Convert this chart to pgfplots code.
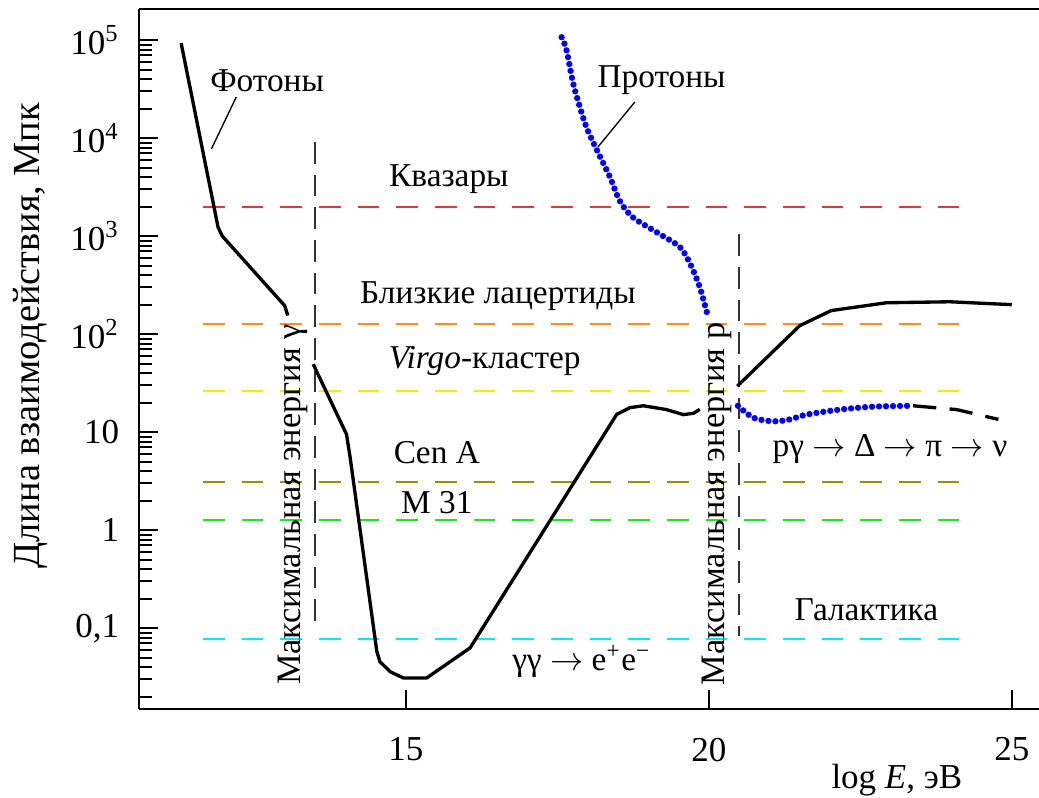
\documentclass[border=0pt]{standalone}
\usepackage{fontspec}
\setmainfont{Liberation Serif}
\usepackage{pgfplots}
\pgfplotsset{compat=1.18}
\definecolor{cRed}{RGB}{225,55,55}
\definecolor{cOrange}{RGB}{255,140,30}
\definecolor{cYellow}{RGB}{245,235,0}
\definecolor{cOlive}{RGB}{155,145,0}
\definecolor{cGreen}{RGB}{30,235,30}
\definecolor{cCyan}{RGB}{0,235,245}
\definecolor{cGray}{RGB}{50,50,50}
\definecolor{cBlue}{RGB}{0,0,245}
\begin{document}
\begin{tikzpicture}
\begin{axis}[
 scale only axis, width=269.9pt, height=210pt,
 ymode=log, xmin=10.6, xmax=25.45, ymin=0.01486, ymax=206000,
 axis x line*=bottom, axis y line*=left,
 axis line style={line width=0.6pt},
 tick align=inside,
 xtick={15,20,25}, xticklabels={15,20,25}, minor xtick={},
 ytick={0.1,1,10,100,1000,10000,100000},
 yticklabels={{0,1},1,10,10\textsuperscript{2},10\textsuperscript{3},10\textsuperscript{4},10\textsuperscript{5}},
 minor ytick={0.02,0.03,0.04,0.05,0.06,0.07,0.08,0.09,0.2,0.3,0.4,0.5,0.6,0.7,0.8,0.9,2,3,4,5,6,7,8,9,20,30,40,50,60,70,80,90,200,300,400,500,600,700,800,900,2000,3000,4000,5000,6000,7000,8000,9000,20000,30000,40000,50000,60000,70000,80000,90000},
 major tick length=5.7pt, minor tick length=3.7pt,
 every tick/.style={black, line width=0.6pt},
 /pgf/number format/assume math mode=true,
 tick label style={font=\fontsize{10.5}{12}\selectfont},
 xticklabel style={yshift=-5pt},
 yticklabel style={xshift=-2.5pt},
 clip=false,
 font=\fontsize{10}{12}\selectfont,
]
% horizontal reference levels
\addplot[cRed, line width=0.55pt, dash pattern=on 6.5pt off 5.1pt] coordinates {(11.65,1980) (24.27,1980)};
\addplot[cOrange, line width=0.55pt, dash pattern=on 6.5pt off 5.1pt] coordinates {(11.65,127) (24.27,127)};
\addplot[cYellow, line width=0.55pt, dash pattern=on 6.5pt off 5.1pt] coordinates {(11.65,26.4) (24.27,26.4)};
\addplot[cOlive, line width=0.55pt, dash pattern=on 6.5pt off 5.1pt] coordinates {(11.65,3.1) (24.27,3.1)};
\addplot[cGreen, line width=0.55pt, dash pattern=on 6.5pt off 5.1pt] coordinates {(11.65,1.26) (24.27,1.26)};
\addplot[cCyan, line width=0.55pt, dash pattern=on 6.5pt off 5.1pt] coordinates {(11.65,0.078) (24.27,0.078)};
% vertical max-energy lines
\addplot[cGray, line width=0.45pt, dash pattern=on 6.5pt off 3.3pt] coordinates {(13.5,9120) (13.5,0.1)};
\addplot[cGray, line width=0.45pt, dash pattern=on 6.5pt off 3.3pt] coordinates {(20.5,1047) (20.5,0.083)};
% photons
\addplot[black, line width=1pt] coordinates {(11.29,93300) (11.90,1230) (11.97,1000) (13.00,195) (13.05,155)};
\addplot[black, line width=1pt] coordinates {(13.47,49.4) (14.02,9.5) (14.08,5.5) (14.52,0.058) (14.57,0.0457) (14.74,0.036) (14.96,0.031) (15.34,0.031) (16.06,0.063) (18.48,15.2) (18.70,17.8) (18.92,18.6) (19.30,17.0) (19.58,15.1) (19.75,15.6) (19.85,17.1)};
\addplot[black, line width=1pt] coordinates {(20.47,29.5) (21.50,122) (22.02,174) (22.93,209) (23.98,214) (25.0,200)};
\addplot[black, line width=1pt, dash pattern=on 7pt off 4pt] coordinates {(23.37,18.6) (24.09,17.0) (24.78,13.5)};
% protons
\addplot[cBlue, line width=1.9pt, line cap=round, dash pattern=on 0pt off 2.1pt, smooth, tension=0.5] coordinates {(17.57,107000) (17.65,79400) (17.76,36300) (17.87,20900) (17.98,12900) (18.15,7590) (18.37,3980) (18.53,2290) (18.75,1550) (19.19,1050) (19.52,776) (19.69,525) (19.85,302) (19.99,148)};
\addplot[cBlue, line width=1.9pt, line cap=round, dash pattern=on 0pt off 2.1pt, smooth, tension=0.5] coordinates {(20.48,18.6) (20.73,14.1) (21.06,12.9) (21.34,13.5) (21.61,15.1) (22.16,17.0) (22.71,18.2) (23.37,18.6)};
% pointers
\draw[line width=0.4pt] (axis cs:12.20,26300) -- (axis cs:11.79,7760);
\draw[line width=0.4pt] (axis cs:18.78,23400) -- (axis cs:18.17,8130);
% labels
\node at (axis cs:12.71,38900) {Фотоны};
\node at (axis cs:19.22,38900) {Протоны};
\node at (axis cs:15.71,3800) {Квазары};
\node at (axis cs:16.52,245) {Близкие лацертиды};
\node at (axis cs:16.30,53.7) {\textit{Virgo}-кластер};
\node at (axis cs:15.51,6.17) {Cen A};
\node at (axis cs:15.51,1.91) {M 31};
\node at (axis cs:17.90,0.0457) {γγ $\rightarrow$ e\textsuperscript{+}e\textsuperscript{−}};
\node at (axis cs:22.99,6.68) {pγ $\rightarrow$ Δ $\rightarrow$ π $\rightarrow$ ν};
\node at (axis cs:22.60,0.155) {Галактика};
\node[rotate=90, font=\fontsize{10.3}{12}\selectfont] at (axis cs:13.14,1.82) {Максимальная энергия γ};
\node[rotate=90, font=\fontsize{10.3}{12}\selectfont] at (axis cs:20.14,1.86) {Максимальная энергия p};
\node[font=\fontsize{10.5}{12}\selectfont] at (rel axis cs:0.842,-0.101) {log \textit{E}, эВ};
\node[rotate=90, font=\fontsize{11.5}{13}\selectfont] at (rel axis cs:-0.121,0.534) {Длина взаимодействия, Мпк};
\draw[line width=0.6pt] (rel axis cs:0,1) -- (rel axis cs:1,1);
\end{axis}
\pgfresetboundingbox
\path ([xshift=-41.8pt,yshift=-26.3pt]current axis.south west) rectangle ([yshift=2.8pt]current axis.north east);
\end{tikzpicture}
\end{document}
